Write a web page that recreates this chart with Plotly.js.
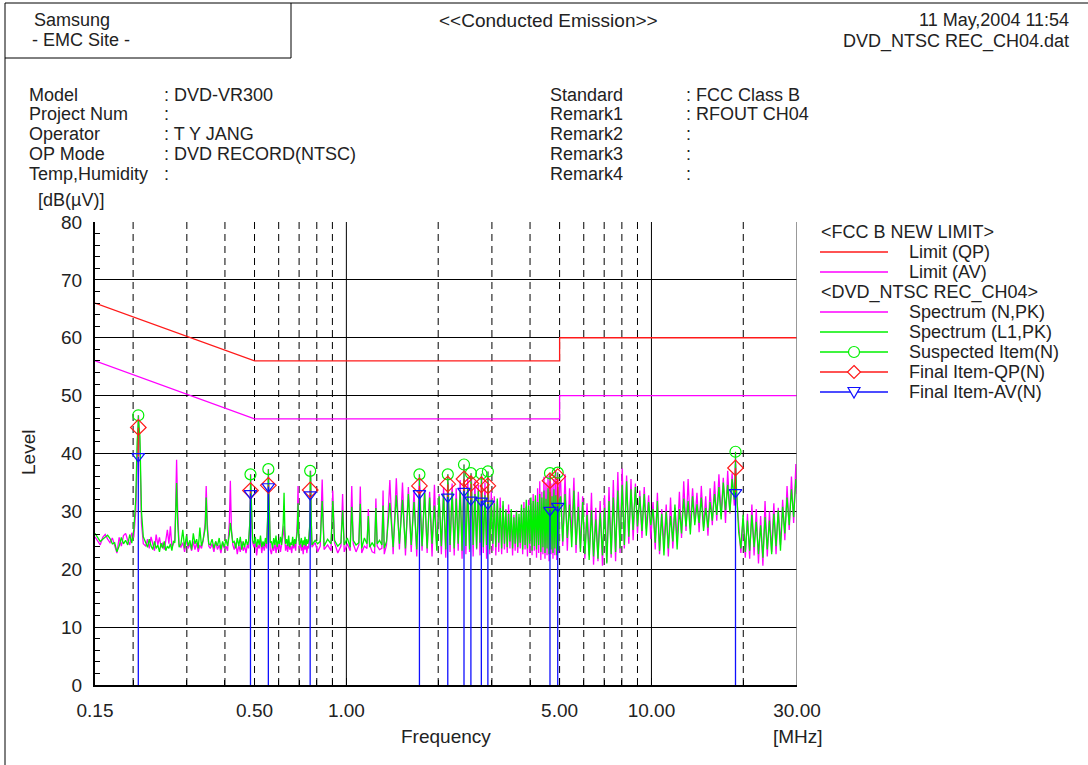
<!DOCTYPE html>
<html>
<head>
<meta charset="utf-8">
<script src="https://cdn.plot.ly/plotly-3.0.1.min.js"></script>
<style>html,body{margin:0;padding:0;background:#fff;}#chart{width:1088px;height:765px;}</style>
</head>
<body>
<div id="chart"></div>
<script>
// ---------------- DATA ----------------
// Limit lines (FCC class B)
const limitFreq = [0.15, 0.5, 5, 5, 30];
const limitQP   = [66, 56, 56, 60, 60];
const limitAV   = [56, 46, 46, 50, 50];

// Spectrum, low band 0.15 - 1.36 MHz
const lowFreq = [
 0.150,0.153,0.156,0.159,0.162,0.165,0.168,0.171,0.174,0.177,0.180,0.183,0.186,0.189,0.192,0.195,0.198,0.201,0.204,
 0.2062,0.2083,0.2105,0.2130,0.2160,
 0.220,0.223,0.226,0.229,0.232,0.235,0.238,0.241,0.244,0.247,0.250,0.253,0.256,0.259,0.262,0.265,0.268,0.271,0.274,
 0.2755,0.2777,0.2800,0.2830,
 0.287,0.291,0.295,0.299,0.303,0.307,0.311,0.315,0.319,0.323,0.327,0.331,0.335,0.339,0.3445,
 0.3472,0.3500,0.3540,
 0.358,0.363,0.368,0.373,0.378,0.383,0.388,0.393,0.398,0.403,0.408,0.4135,
 0.4166,0.4200,0.4245,
 0.429,0.434,0.439,0.444,0.449,0.454,0.459,0.464,0.469,0.474,0.478,0.4825,
 0.4860,0.4895,0.4930,
 0.498,0.503,0.508,0.513,0.518,0.523,0.528,0.533,0.538,0.543,0.548,0.5518,
 0.5554,0.5590,0.5630,
 0.568,0.573,0.578,0.583,0.588,0.593,0.598,0.603,0.608,0.613,0.6210,
 0.6249,0.6285,0.6320,
 0.637,0.642,0.647,0.652,0.657,0.662,0.667,0.672,0.677,0.682,0.6905,
 0.6943,0.6980,0.7020,
 0.707,0.712,0.717,0.722,0.727,0.732,0.737,0.742,0.747,0.752,0.7595,
 0.7637,0.7675,0.7715,
 0.790,0.805,
 0.8212,0.8332,0.8452,0.8680,
 0.8906,0.9026,0.9146,0.9370,
 0.9600,0.9720,0.9840,1.0070,
 1.0295,1.0415,1.0535,1.0760,
 1.0989,1.1109,1.1229,1.1455,
 1.1683,1.1803,1.1923,1.2150,
 1.2377,1.2497,1.2617,1.2845,
 1.3072,1.3192,1.3312,1.3540
];
const lowN = [
 25.6,25.0,24.2,25.5,26.0,25.2,24.6,25.4,24.2,22.8,25.5,24.0,25.8,26.2,25.0,24.2,26.3,25.5,30.0,
 40.0,46.6,41.0,28.0,24.4,
 24.0,25.2,23.6,25.6,24.4,23.2,26.0,24.2,25.5,23.8,24.6,23.4,25.0,26.8,24.4,27.4,23.8,24.6,25.0,
 30.0,38.9,30.0,24.2,
 23.8,24.6,23.0,25.2,23.6,24.4,23.2,24.8,23.4,24.6,23.0,24.2,23.6,24.8,28.0,
 34.4,28.0,24.0,
 23.6,24.4,23.0,24.8,23.4,24.2,22.8,24.6,23.6,24.0,23.2,28.0,
 35.3,27.0,24.2,
 23.4,24.6,22.6,24.2,23.0,24.8,23.2,24.0,22.8,24.4,23.6,28.0,
 36.4,28.0,24.6,
 23.8,24.8,22.4,24.2,23.6,25.0,22.8,24.4,23.2,24.6,23.6,28.5,
 37.3,28.0,23.4,
 22.6,24.0,23.2,24.6,22.8,24.2,23.4,24.8,23.0,24.0,26.0,
 27.5,24.4,23.2,
 24.2,23.0,24.6,23.4,24.0,22.8,24.4,23.6,24.8,23.2,28.0,
 34.4,27.0,23.6,
 24.8,23.2,24.2,22.6,24.4,23.4,24.6,22.8,24.0,23.6,28.0,
 37.0,28.0,23.8,
 24.6,23.0,
 24.0,35.5,23.4,24.2,
 23.2,33.6,24.6,22.8,
 24.0,33.0,23.0,24.4,
 23.2,34.4,24.4,23.0,
 24.2,34.3,22.8,24.0,
 23.6,30.4,24.2,23.0,
 22.8,32.2,24.0,23.4,
 23.6,33.6,22.6,24.2
];
const lowL1 = [
 26.2,25.4,24.8,25.2,25.6,25.9,25.3,24.4,24.6,23.0,24.0,25.5,24.4,25.0,24.2,26.0,24.5,26.8,32.0,
 42.0,45.6,43.0,30.0,25.6,
 24.6,23.8,25.2,24.0,23.4,24.8,23.6,24.2,23.0,24.5,23.6,24.8,23.2,24.0,23.6,24.4,23.2,24.8,24.6,
 28.0,34.9,28.0,23.8,
 24.4,26.8,23.6,25.8,24.0,25.0,23.4,26.2,24.4,25.2,23.6,27.2,24.0,25.0,27.0,
 32.4,27.0,24.4,
 24.2,25.2,23.6,24.8,24.0,25.4,23.4,24.8,23.8,25.2,24.0,26.0,
 28.0,26.0,24.6,
 24.8,23.6,25.4,24.0,25.6,23.4,24.8,23.8,25.2,24.2,24.8,28.0,
 34.8,28.0,25.0,
 24.4,25.6,23.8,25.2,24.2,25.8,23.8,24.8,24.0,25.4,24.4,28.5,
 36.0,28.0,24.6,
 24.8,23.6,25.4,24.2,25.8,23.8,25.0,24.4,25.6,24.2,28.0,
 33.2,27.0,24.4,
 25.2,24.0,25.8,23.8,24.6,24.2,25.6,24.0,25.2,24.4,26.5,
 31.4,26.0,24.2,
 24.6,25.4,23.8,25.0,24.2,25.6,24.0,25.2,24.4,25.0,28.0,
 36.2,28.0,24.2,
 25.0,24.4,
 24.8,31.8,24.0,25.2,
 24.4,31.8,25.0,24.0,
 24.6,30.2,24.2,25.4,
 23.8,30.8,25.0,24.2,
 24.6,31.3,23.6,25.4,
 24.4,29.2,23.8,24.6,
 23.8,30.6,24.4,25.0,
 24.2,31.0,23.6,24.8
];

// Spectrum, harmonic comb 1.39 - 5.0 MHz (peak, trough, peak, ...)
const combFreq = [
 1.3886,1.4233,1.4580,1.4927,1.5275,1.5622,1.5969,1.6316,1.6663,1.7010,
 1.7358,1.7705,1.8052,1.8399,1.8746,1.9093,1.9440,1.9788,2.0135,2.0482,
 2.0829,2.1176,2.1523,2.1870,2.2218,2.2565,2.2912,2.3259,2.3606,2.3953,
 2.4301,2.4648,2.4995,2.5342,2.5689,2.6036,2.6383,2.6731,2.7078,2.7425,
 2.7772,2.8119,2.8466,2.8813,2.9161,2.9508,2.9855,3.0202,3.0549,3.0896,
 3.1244,3.1591,3.1938,3.2285,3.2632,3.2979,3.3326,3.3674,3.4021,3.4368,
 3.4715,3.5062,3.5409,3.5757,3.6104,3.6451,3.6798,3.7145,3.7492,3.7839,
 3.8187,3.8534,3.8881,3.9228,3.9575,3.9922,4.0269,4.0617,4.0964,4.1311,
 4.1658,4.2005,4.2352,4.2700,4.3047,4.3394,4.3741,4.4088,4.4435,4.4782,
 4.5130,4.5477,4.5824,4.6171,4.6518,4.6865,4.7212,4.7560,4.7907,4.8254,
 4.8601,4.8948,4.9295,4.9643,4.9990
];
const combN = [
 35.4,22.6,35.7,23.4,35.0,22.4,34.2,23.0,33.6,22.2,
 36.4,23.2,34.0,22.8,33.4,22.2,34.6,23.4,33.0,22.6,
 34.2,22.0,36.4,23.0,34.8,22.4,34.0,23.2,35.4,21.8,
 38.1,22.6,35.8,23.0,36.6,22.2,35.2,23.4,34.6,22.4,
 36.5,22.8,35.0,21.8,36.9,22.6,33.4,23.2,32.6,22.4,
 31.8,23.0,32.4,22.6,31.0,23.4,30.4,22.8,31.2,23.6,
 29.8,22.4,29.4,23.2,30.2,22.8,29.0,23.6,30.6,22.6,
 31.6,23.4,30.8,22.2,32.0,23.0,31.4,22.4,33.0,23.2,
 32.2,22.0,34.0,22.8,35.2,21.6,33.4,22.6,36.0,21.8,
 35.0,22.4,36.2,21.4,36.6,22.6,34.8,21.8,35.6,22.4,
 37.0,21.6,36.7,22.8,34.6
];
const combL1 = [
 31.5,23.8,32.8,24.4,32.0,23.6,33.0,24.2,31.6,23.4,
 34.0,24.0,33.2,23.6,32.4,24.4,31.0,23.2,32.6,24.0,
 33.0,23.4,35.0,24.2,33.4,23.6,32.2,24.4,33.6,23.2,
 35.6,24.0,34.0,23.4,35.0,24.2,33.0,23.6,33.6,24.6,
 34.8,23.8,32.8,24.2,34.6,23.4,32.0,24.4,31.4,23.8,
 32.2,24.6,30.6,23.6,31.8,24.4,30.2,23.8,29.6,24.8,
 30.4,23.6,29.0,24.4,30.0,23.8,29.6,24.6,31.2,23.4,
 30.6,24.2,32.0,23.6,31.0,24.4,32.4,23.2,31.8,24.0,
 32.8,23.4,31.6,24.2,33.0,23.0,32.4,23.8,33.6,22.8,
 32.2,23.6,34.0,22.6,33.4,23.4,32.6,22.8,33.8,23.6,
 32.8,22.4,34.2,23.2,32.0
];

// Spectrum, high band 5 - 30 MHz
const highFreq = [
 5.04,5.12,5.21,5.30,5.39,5.48,5.57,5.66,5.76,5.85,
 5.95,6.05,6.15,6.25,6.36,6.46,6.57,6.68,6.79,6.91,
 7.02,7.14,7.26,7.38,7.50,7.63,7.76,7.89,8.02,8.15,
 8.29,8.43,8.57,8.71,8.86,9.00,9.16,9.31,9.47,9.62,
 9.79,9.95,10.12,10.29,10.46,10.63,10.81,10.99,11.18,11.36,
 11.55,11.75,11.94,12.14,12.35,12.55,12.76,12.98,13.19,13.41,
 13.64,13.87,14.10,14.33,14.57,14.82,15.06,15.32,15.57,15.83,
 16.10,16.37,16.64,16.92,17.20,17.49,17.78,18.08,18.38,18.69,
 18.86,19.00,19.32,19.64,19.97,20.31,20.64,20.99,21.34,21.70,
 22.06,22.43,22.80,23.19,23.57,23.97,24.37,24.78,25.19,25.61,
 26.04,26.48,26.92,27.37,27.83,28.29,28.77,29.25,29.74,30.00
];
const highN = [
 35.2,24.0,36.4,23.2,34.0,25.6,35.8,22.8,33.4,23.6,
 32.6,21.8,31.4,22.4,33.2,20.8,30.6,21.4,31.8,20.6,
 32.8,21.2,34.2,22.0,35.4,21.4,36.8,22.8,37.4,23.6,
 36.2,24.4,35.6,25.0,34.8,26.2,33.6,25.4,34.2,27.0,
 32.8,25.2,31.6,23.4,33.2,22.6,30.4,24.0,31.2,22.2,
 32.4,23.6,30.6,24.8,33.4,25.4,35.2,26.6,35.6,27.0,
 34.0,28.2,33.2,26.4,34.4,27.2,32.6,25.8,34.0,27.6,
 35.2,28.4,36.4,29.2,35.8,28.0,37.0,29.6,36.6,31.0,
 40.0,33.0,27.0,22.8,28.8,22.0,29.6,21.8,31.2,22.4,
 30.4,21.0,29.2,20.6,31.8,22.2,30.0,23.0,31.4,22.6,
 30.6,24.2,32.0,25.0,34.4,26.8,36.0,28.0,38.2,33.0
];
const highL1 = [
 32.6,24.8,33.0,25.4,31.2,23.8,33.6,24.2,30.8,23.0,
 31.6,22.6,29.4,21.6,30.2,22.2,28.6,21.8,29.8,22.4,
 30.6,21.0,31.8,22.6,32.4,23.0,33.6,23.6,34.6,24.2,
 35.2,25.6,33.8,26.8,34.2,27.4,32.6,26.6,33.0,25.8,
 31.6,27.6,30.4,24.6,31.8,23.2,29.6,22.4,30.0,23.6,
 29.2,24.8,31.2,23.4,30.4,26.2,32.2,27.4,31.8,26.0,
 32.6,27.6,31.2,28.0,32.4,26.6,30.6,27.2,31.6,28.4,
 33.0,29.4,34.2,28.6,35.0,30.2,34.6,29.8,35.6,32.0,
 38.2,34.0,26.4,23.6,29.4,23.0,28.4,23.2,29.4,23.8,
 28.2,22.6,27.6,22.0,29.0,23.4,28.4,22.6,29.6,24.0,
 30.2,23.2,30.8,26.2,32.4,27.6,33.8,29.0,35.6,34.0
];

// Measured items
const itemFreq = [0.208, 0.485, 0.555, 0.761, 1.736, 2.150, 2.430, 2.560, 2.770, 2.910, 4.650, 4.930, 18.86];
const itemSusp = [46.6, 36.4, 37.3, 37.0, 36.4, 36.4, 38.1, 36.6, 36.5, 36.9, 36.6, 36.7, 40.3];
const itemQP   = [44.5, 33.6, 34.5, 33.7, 34.4, 34.7, 35.6, 34.8, 34.6, 34.4, 35.3, 36.0, 37.5];
const itemAV   = [39.5, 33.1, 34.3, 32.9, 33.1, 32.5, 33.5, 32.0, 31.8, 31.3, 30.2, 30.9, 33.3];

// Axes
const xTickVals = [0.15, 0.5, 1, 5, 10, 30];
const xTickText = ['0.15', '0.50', '1.00', '5.00', '10.00', '30.00'];
const yTickVals = [0, 10, 20, 30, 40, 50, 60, 70, 80];
const gridDashed = [0.2, 0.3, 0.4, 0.5, 0.6, 0.7, 0.8, 0.9, 2, 3, 4, 5, 6, 7, 8, 9, 20];
const gridSolid = [1, 10];

// Texts
const infoLeftLabels  = ['Model', 'Project Num', 'Operator', 'OP Mode', 'Temp,Humidity'];
const infoLeftValues  = [': DVD-VR300', ':', ': T Y JANG', ': DVD RECORD(NTSC)', ':'];
const infoRightLabels = ['Standard', 'Remark1', 'Remark2', 'Remark3', 'Remark4'];
const infoRightValues = [': FCC Class B', ': RFOUT CH04', ':', ':', ':'];
const legendText = ['&lt;FCC B NEW LIMIT&gt;', 'Limit (QP)', 'Limit (AV)', '&lt;DVD_NTSC REC_CH04&gt;',
  'Spectrum (N,PK)', 'Spectrum (L1,PK)', 'Suspected Item(N)', 'Final Item-QP(N)', 'Final Item-AV(N)'];

// ---------------- DRAW ----------------
const W = 1088, H = 765;
const px = x => x / W;
const py = y => 1 - y / H;
const FONT = 'Liberation Sans, Arial, sans-serif';
const TXT = '#222';
const FS = 18;

const specFreq = lowFreq.concat(combFreq, highFreq);
const specN = lowN.concat(combN, highN);
const specL1 = lowL1.concat(combL1, highL1);

const RED = '#ff1a1a', MAG = '#ff00ff', GRN = '#00f000', BLU = '#1010ff';

function stems(lo, hi) {
  const x = [], y = [];
  itemFreq.forEach((f, i) => { x.push(f, f, null); y.push(lo[i], hi[i], null); });
  return {x, y};
}
const zeros = itemFreq.map(() => 0);
const sBlue = stems(zeros, itemAV);
const sRed = stems(itemAV, itemQP);
const sGreen = stems(itemQP, itemSusp);

const traces = [
  {x: limitFreq, y: limitQP, mode: 'lines', line: {color: RED, width: 1.3}},
  {x: limitFreq, y: limitAV, mode: 'lines', line: {color: MAG, width: 1.3}},
  {x: specFreq, y: specN, mode: 'lines', line: {color: MAG, width: 1.3}},
  {x: specFreq, y: specL1, mode: 'lines', line: {color: GRN, width: 1.3}},
  {x: sBlue.x, y: sBlue.y, mode: 'lines', line: {color: BLU, width: 1.3}},
  {x: sRed.x, y: sRed.y, mode: 'lines', line: {color: RED, width: 1.2}},
  {x: sGreen.x, y: sGreen.y, mode: 'lines', line: {color: GRN, width: 1.2}},
  {x: itemFreq, y: itemSusp, mode: 'markers', marker: {symbol: 'circle-open', size: 11, color: GRN, line: {width: 1.2}}},
  {x: itemFreq, y: itemQP, mode: 'markers', marker: {symbol: 'diamond-open', size: 12, color: RED, line: {width: 1.2}}},
  {x: itemFreq, y: itemAV, mode: 'markers', marker: {symbol: 'triangle-down-open', size: 11, color: BLU, line: {width: 1.2}}}
];

const shapes = [];
// page frame
const frame = (x0, y0, x1, y1) => shapes.push({type: 'line', xref: 'paper', yref: 'paper',
  x0: px(x0), y0: py(y0), x1: px(x1), y1: py(y1), line: {color: '#000', width: 1}});
frame(5, 3, 1088, 3);
frame(5, 3, 5, 765);
frame(291, 3, 291, 58);
frame(5, 58, 291, 58);

gridDashed.forEach(v => shapes.push({type: 'line', xref: 'x', yref: 'y', x0: v, x1: v, y0: 0, y1: 80,
  layer: 'below', line: {color: '#000', width: 1, dash: '7px,5px'}}));
gridSolid.forEach(v => shapes.push({type: 'line', xref: 'x', yref: 'y', x0: v, x1: v, y0: 0, y1: 80,
  layer: 'below', line: {color: '#000', width: 1}}));
// right border of plot
shapes.push({type: 'line', xref: 'x', yref: 'y', x0: 30, x1: 30, y0: 0, y1: 80, line: {color: '#777', width: 1.5}});

// legend
const legY = [232, 252, 272, 292, 312, 332, 352, 372, 392];
const legColor = [null, RED, MAG, null, MAG, GRN, GRN, RED, BLU];
const annotations = [];
legendText.forEach((t, i) => {
  const header = legColor[i] === null;
  annotations.push({xref: 'paper', yref: 'paper', x: px(header ? 819 : 907), y: py(legY[i]), text: t,
    showarrow: false, xanchor: 'left', yanchor: 'middle', font: {family: FONT, size: FS, color: TXT}});
  if (!header) shapes.push({type: 'line', xref: 'paper', yref: 'paper', x0: px(820), x1: px(888),
    y0: py(legY[i]), y1: py(legY[i]), line: {color: legColor[i], width: 1.3}});
});
const mx = 854;
// circle marker
shapes.push({type: 'circle', xref: 'paper', yref: 'paper', x0: px(mx - 5.5), x1: px(mx + 5.5),
  y0: py(legY[6] + 5.5), y1: py(legY[6] - 5.5), fillcolor: '#fff', line: {color: GRN, width: 1.2}});
// diamond
const dy = legY[7];
shapes.push({type: 'path', xref: 'paper', yref: 'paper', fillcolor: '#fff', line: {color: RED, width: 1.2},
  path: `M ${px(mx)} ${py(dy - 6.5)} L ${px(mx + 6.5)} ${py(dy)} L ${px(mx)} ${py(dy + 6.5)} L ${px(mx - 6.5)} ${py(dy)} Z`});
// triangle down
const ty = legY[8];
shapes.push({type: 'path', xref: 'paper', yref: 'paper', fillcolor: '#fff', line: {color: BLU, width: 1.2},
  path: `M ${px(mx - 6)} ${py(ty - 4.5)} L ${px(mx + 6)} ${py(ty - 4.5)} L ${px(mx)} ${py(ty + 6)} Z`});

// header texts
function txt(text, x, y, anchor, extra) {
  annotations.push(Object.assign({xref: 'paper', yref: 'paper', x: px(x), y: py(y), text: text,
    showarrow: false, xanchor: anchor, yanchor: 'middle', font: {family: FONT, size: FS, color: TXT}}, extra || {}));
}
txt('Samsung', 32, 20, 'left');
txt('- EMC Site -', 30, 40, 'left');
txt('&lt;&lt;Conducted Emission&gt;&gt;', 548, 20, 'center', {font: {family: FONT, size: 19, color: TXT}});
txt('11 May,2004 11:54', 1071, 20, 'right');
txt('DVD_NTSC REC_CH04.dat', 1071, 41, 'right');
const infoY = [95, 114, 134, 154, 174];
infoLeftLabels.forEach((t, i) => txt(t, 27, infoY[i], 'left'));
infoLeftValues.forEach((t, i) => txt(t, 162, infoY[i], 'left'));
infoRightLabels.forEach((t, i) => txt(t, 548, infoY[i], 'left'));
infoRightValues.forEach((t, i) => txt(t, 684, infoY[i], 'left'));
txt('[dB(µV)]', 36, 200, 'left');
txt('Level', 28, 453, 'center', {textangle: -90, font: {family: FONT, size: 19, color: TXT}});
txt('Frequency', 446, 736, 'center', {font: {family: FONT, size: 19, color: TXT}});
txt('[MHz]', 798, 736, 'center', {font: {family: FONT, size: 19, color: TXT}});

const layout = {
  width: W, height: H,
  margin: {l: 0, r: 0, t: 0, b: 0},
  paper_bgcolor: '#fff', plot_bgcolor: '#fff',
  showlegend: false,
  font: {family: FONT, size: FS, color: TXT},
  xaxis: {
    type: 'log', range: [Math.log10(0.15), Math.log10(30)], domain: [px(95), px(797)],
    tickmode: 'array', tickvals: xTickVals, ticktext: xTickText,
    ticks: 'inside', ticklen: 7, tickcolor: '#000', tickwidth: 1, ticklabelstandoff: 7,
    showgrid: false, zeroline: false, showline: true, linecolor: '#000', linewidth: 2,
    tickfont: {family: FONT, size: 19, color: TXT},
    minor: {tickmode: 'array', tickvals: gridDashed, ticks: 'inside', ticklen: 5, tickcolor: '#000', showgrid: false}
  },
  yaxis: {
    range: [0, 80], domain: [1 - 685 / H, 1 - 222 / H],
    tickmode: 'array', tickvals: yTickVals,
    ticks: 'inside', ticklen: 8, tickcolor: '#000', tickwidth: 1, ticklabelstandoff: 7,
    showgrid: true, gridcolor: '#000', gridwidth: 1, zeroline: false,
    showline: true, linecolor: '#000', linewidth: 2,
    tickfont: {family: FONT, size: 19, color: TXT},
    minor: {dtick: 2, ticks: 'inside', ticklen: 5, tickcolor: '#000', showgrid: false}
  },
  shapes: shapes,
  annotations: annotations
};

Plotly.newPlot('chart', traces, layout, {displayModeBar: false, staticPlot: true});
</script>
</body>
</html>
